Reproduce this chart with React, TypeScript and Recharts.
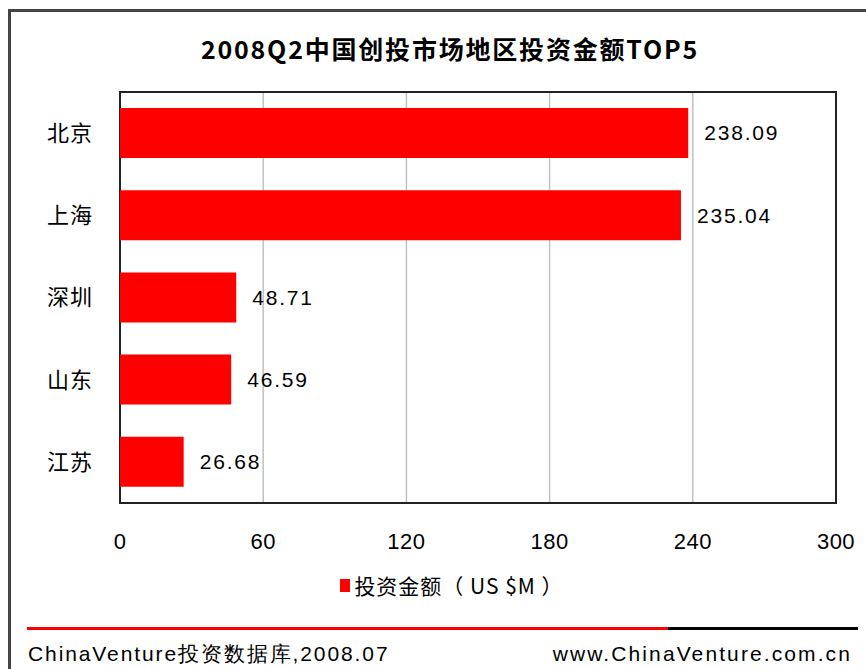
import React from 'react';
import { BarChart, Bar, XAxis, YAxis, CartesianGrid, LabelList, ReferenceArea, Legend } from 'recharts';

const regions = ['北京', '上海', '深圳', '山东', '江苏'];
const amounts = [238.09, 235.04, 48.71, 46.59, 26.68];
const xTicks = [0, 60, 120, 180, 240, 300];
const seriesName = '投资金额（ US $M ）';
const titleText = '2008Q2中国创投市场地区投资金额TOP5';
const footerLeft = 'ChinaVenture投资数据库,2008.07';
const footerRight = 'www.ChinaVenture.com.cn';

const data = regions.map((name, i) => ({ name, value: amounts[i] }));

const LATIN = '"Liberation Sans", Arial, sans-serif';
const CJK = '"Noto Sans CJK SC", "Liberation Sans", sans-serif';

const renderLegend = () => (
  <div style={{ display: 'flex', justifyContent: 'center', alignItems: 'center', height: 30, paddingLeft: 38 }}>
    <span style={{ display: 'inline-block', width: 10, height: 13, background: '#ff0000', marginRight: 4 }} />
    <span style={{ fontFamily: CJK, fontSize: 21, color: '#000', letterSpacing: 1, whiteSpace: 'pre' }}>{seriesName}</span>
  </div>
);

export default function App() {
  return (
    <div style={{ position: 'absolute', left: 0, top: 0, width: 866, height: 669, background: '#fff', overflow: 'hidden' }}>
      <div style={{ position: 'absolute', left: 8, top: 9, width: 900, height: 700, borderLeft: '3px solid #444', borderTop: '3px solid #444' }} />
      <div style={{ position: 'absolute', left: 0, top: 30, width: 900, textAlign: 'center', fontFamily: CJK, fontWeight: 'bold', fontSize: 25, letterSpacing: 1.8, lineHeight: '36px', color: '#000' }}>
        {titleText}
      </div>
      <div style={{ position: 'absolute', left: 0, top: 0 }}>
        <BarChart
          width={866}
          height={669}
          data={data}
          layout="vertical"
          margin={{ top: 92, right: 30, bottom: 96, left: 20 }}
        >
          <CartesianGrid horizontal={false} vertical={true} stroke="#c0c0c0" strokeWidth={1.5} />
          <XAxis
            type="number"
            domain={[0, 300]}
            ticks={xTicks}
            interval={0}
            axisLine={false}
            tickLine={false}
            height={40}
            tickSize={6}
            tickMargin={24}
            tick={{ fill: '#000', fontSize: 22, fontFamily: LATIN, letterSpacing: 0.5 }}
          />
          <YAxis
            type="category"
            dataKey="name"
            width={100}
            axisLine={false}
            tickLine={false}
            tickSize={6}
            tickMargin={21}
            tick={{ fill: '#000', fontSize: 22, fontFamily: CJK, letterSpacing: 1 }}
          />
          <ReferenceArea x1={0} x2={300} fill="none" stroke="#222" strokeWidth={2} fillOpacity={0} />
          <Legend verticalAlign="bottom" content={renderLegend} wrapperStyle={{ top: 570, bottom: 'auto', left: 0, width: 866 }} />
          <Bar dataKey="value" name={seriesName} fill="#ff0000" barSize={50} isAnimationActive={false}>
            <LabelList dataKey="value" position="right" offset={16} fill="#000" fontSize={21} fontFamily={LATIN} style={{ letterSpacing: 1.8 }} />
          </Bar>
        </BarChart>
      </div>
      <div style={{ position: 'absolute', left: 27, top: 627, width: 641, height: 3, background: '#ff0000' }} />
      <div style={{ position: 'absolute', left: 668, top: 627, width: 190, height: 3, background: '#000' }} />
      <div style={{ position: 'absolute', left: 28, top: 640, fontFamily: LATIN, fontSize: 21, letterSpacing: 1.9, lineHeight: '28px', color: '#000', whiteSpace: 'nowrap' }}>
        {footerLeft}
      </div>
      <div style={{ position: 'absolute', right: 14, top: 640, fontFamily: LATIN, fontSize: 21, letterSpacing: 2.1, lineHeight: '28px', color: '#000', whiteSpace: 'nowrap' }}>
        {footerRight}
      </div>
    </div>
  );
}
